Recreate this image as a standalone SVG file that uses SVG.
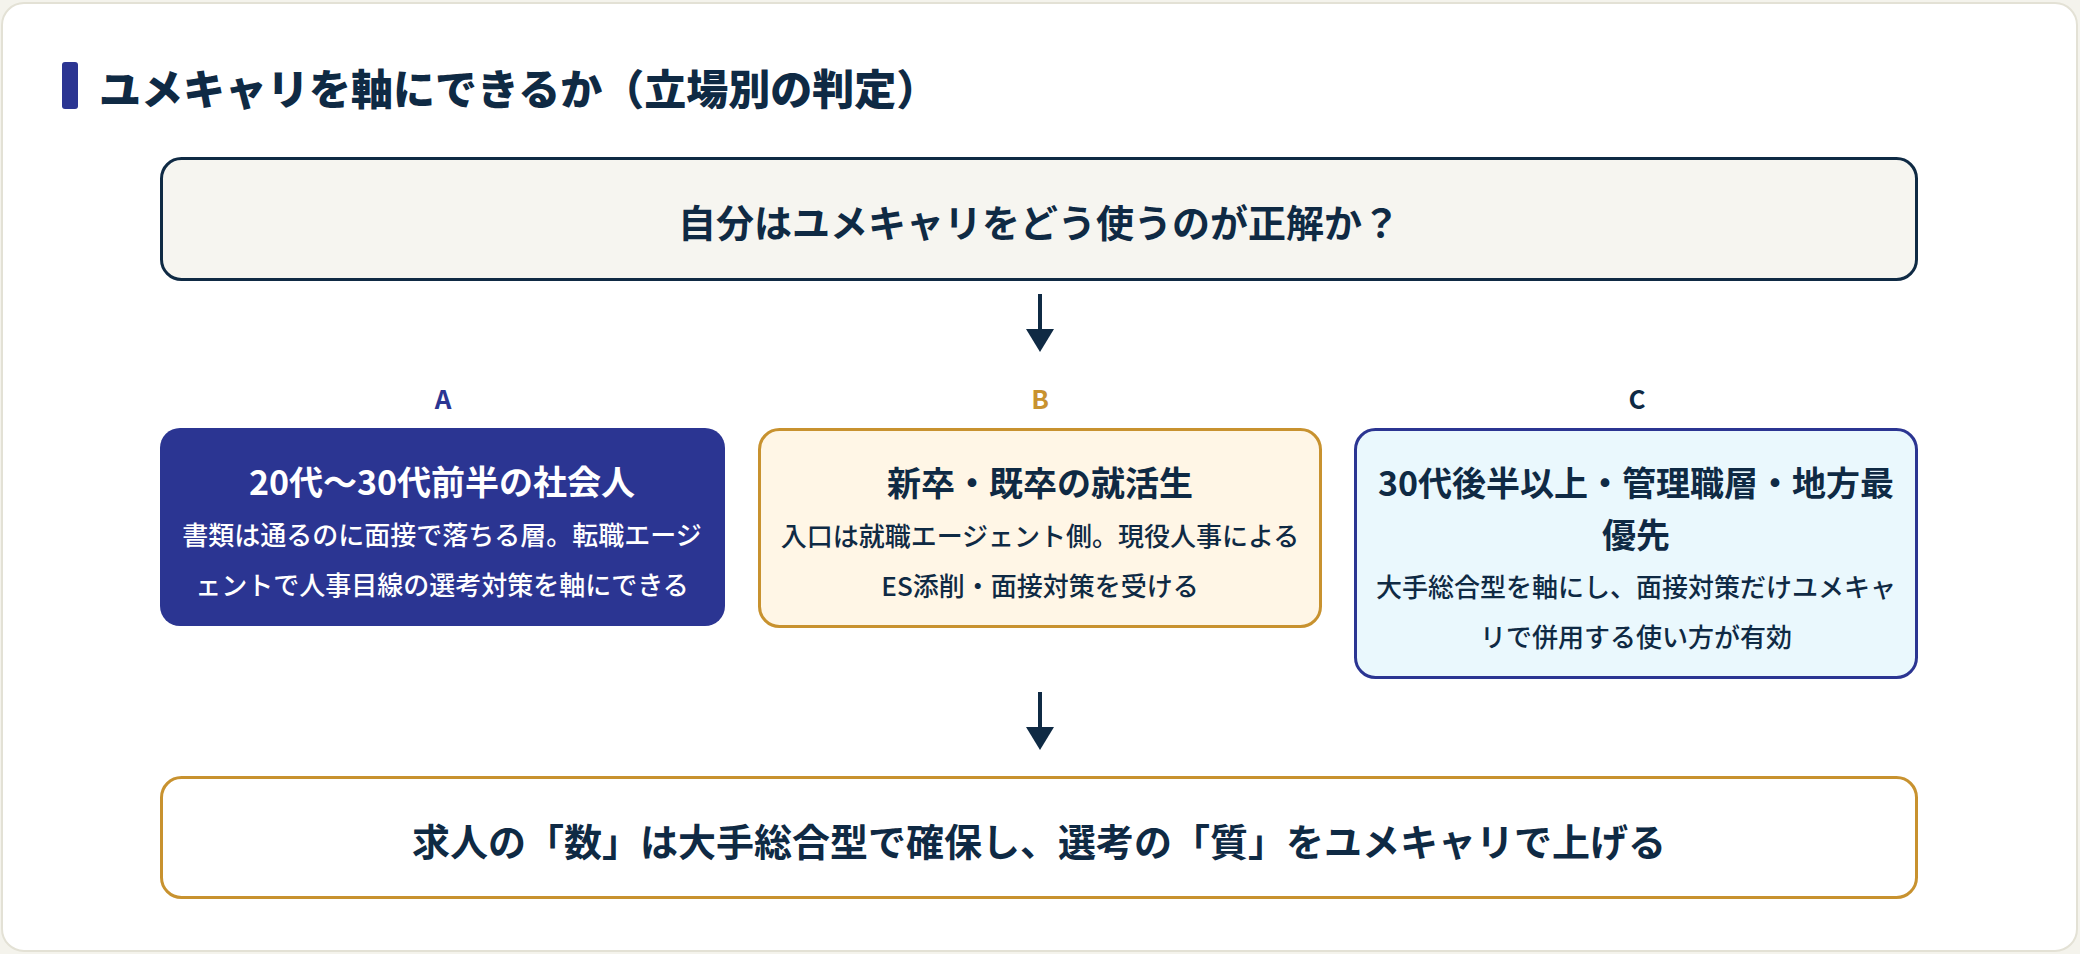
<svg xmlns="http://www.w3.org/2000/svg" width="2080" height="954" viewBox="0 0 2080 954">
<defs>
<style>
text{font-family:"Noto Sans CJK JP","Noto Sans",sans-serif;text-anchor:middle;dominant-baseline:central}
.h{font-size:38px;font-weight:700;fill:#0f2a44}
.t{font-size:34px;font-weight:700;fill:#0f2a44}
.b{font-size:26px;font-weight:500;fill:#0f2a44}
.w{fill:#ffffff}
.lbl{font-size:26px;font-weight:700}
.conn{stroke:#0f2a44;stroke-width:4;fill:none}
</style>
</defs>
<rect x="0" y="0" width="2080" height="954" fill="#f4f3ec"/>
<rect x="2" y="3" width="2075" height="948" rx="22" fill="#ffffff" stroke="#e3e1d5" stroke-width="2"/>
<g id="title">
<rect x="62" y="62" width="16" height="47" rx="3" fill="#2b3592"/>
<text x="99" y="86" style="text-anchor:start;font-size:42px;font-weight:900;fill:#0f2a44">ユメキャリを軸にできるか（立場別の判定）</text>
</g>
<g id="question">
<rect x="161.5" y="158.5" width="1755" height="121" rx="20" fill="#f6f5f0" stroke="#0f2a44" stroke-width="3"/>
<text class="h" x="1039" y="220">自分はユメキャリをどう使うのが正解か？</text>
</g>
<g id="connectors">
<line class="conn" x1="1040" y1="294" x2="1040" y2="330"/>
<path d="M1026 329 L1054 329 L1040 352 Z" fill="#0f2a44"/>
<line class="conn" x1="1040" y1="692" x2="1040" y2="728"/>
<path d="M1026 727 L1054 727 L1040 750 Z" fill="#0f2a44"/>
</g>
<g id="nodeA">
<text class="lbl" x="443" y="397" fill="#2b3592">A</text>
<rect x="160" y="428" width="565" height="198" rx="20" fill="#2b3592"/>
<text class="t w" x="442" y="480">20代〜30代前半の社会人</text>
<text class="b w" x="442" y="533">書類は通るのに面接で落ちる層。転職エージ</text>
<text class="b w" x="442" y="583">ェントで人事目線の選考対策を軸にできる</text>
</g>
<g id="nodeB">
<text class="lbl" x="1040" y="397" fill="#c8922f">B</text>
<rect x="759.5" y="429.5" width="561" height="197" rx="20" fill="#fff6e6" stroke="#c8922f" stroke-width="3"/>
<text class="t" x="1040" y="481">新卒・既卒の就活生</text>
<text class="b" x="1040" y="534">入口は就職エージェント側。現役人事による</text>
<text class="b" x="1040" y="584">ES添削・面接対策を受ける</text>
</g>
<g id="nodeC">
<text class="lbl" x="1637" y="397" fill="#0f2a44">C</text>
<rect x="1355.5" y="429.5" width="561" height="248" rx="20" fill="#eaf8fd" stroke="#2b3592" stroke-width="3"/>
<text class="t" x="1636" y="481">30代後半以上・管理職層・地方最</text>
<text class="t" x="1636" y="533">優先</text>
<text class="b" x="1636" y="585">大手総合型を軸にし、面接対策だけユメキャ</text>
<text class="b" x="1636" y="635">リで併用する使い方が有効</text>
</g>
<g id="conclusion">
<rect x="161.5" y="777.5" width="1755" height="120" rx="20" fill="#ffffff" stroke="#c8922f" stroke-width="3"/>
<text class="h" x="1039" y="839">求人の「数」は大手総合型で確保し、選考の「質」をユメキャリで上げる</text>
</g>
</svg>
